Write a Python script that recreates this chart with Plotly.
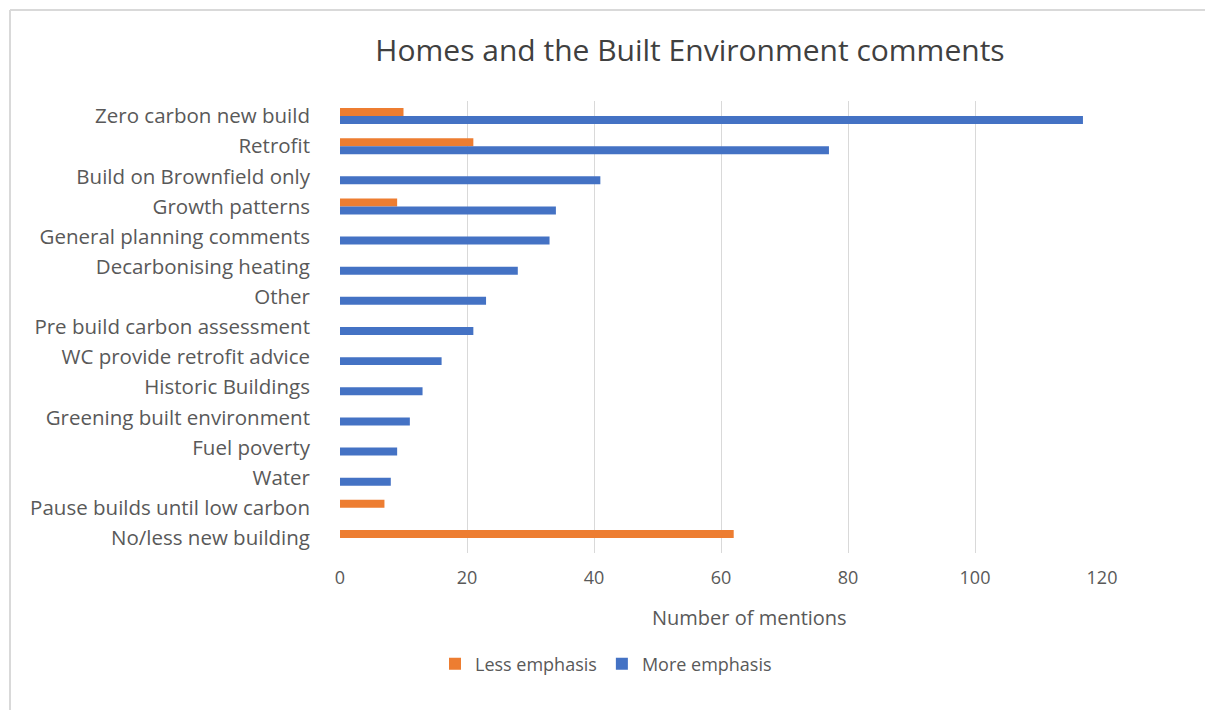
import plotly.graph_objects as go

# Comment themes, listed top to bottom
categories = [
    "Zero carbon new build",
    "Retrofit",
    "Build on Brownfield only",
    "Growth patterns",
    "General planning comments",
    "Decarbonising heating",
    "Other",
    "Pre build carbon assessment",
    "WC provide retrofit advice",
    "Historic Buildings",
    "Greening built environment",
    "Fuel poverty",
    "Water",
    "Pause builds until low carbon",
    "No/less new building",
]

less_emphasis = [10, 21, 0, 9, 0, 0, 0, 0, 0, 0, 0, 0, 0, 7, 62]
more_emphasis = [117, 77, 41, 34, 33, 28, 23, 21, 16, 13, 11, 9, 8, 0, 0]

x_ticks = [0, 20, 40, 60, 80, 100, 120]

FONT = "Open Sans"
GREY = "#595959"

fig = go.Figure()
fig.add_trace(go.Bar(
    y=categories, x=less_emphasis, name="Less emphasis", orientation="h",
    marker=dict(color="#ED7D31", line=dict(width=0)),
))
fig.add_trace(go.Bar(
    y=categories, x=more_emphasis, name="More emphasis", orientation="h",
    marker=dict(color="#4472C4", line=dict(width=0)),
))

# plot area in pixels: x 340..1102, y 101..553
L, R, T, B = 340, 1102, 101, 553
W, H = 1205, 710
pw, ph = R - L, B - T


def px(x):
    return (x - L) / pw


def py(y):
    return (B - y) / ph


fig.update_layout(
    width=W, height=H,
    margin=dict(l=L, r=W - R, t=T, b=H - B, autoexpand=False),
    paper_bgcolor="white", plot_bgcolor="white",
    barmode="group", bargap=0.47, bargroupgap=0,
    font=dict(family=FONT, color=GREY, size=18),
    title=dict(
        text="Homes and the Built Environment comments",
        font=dict(family=FONT, size=30, color="#404040"),
        x=690 / W, xref="container", xanchor="center",
        y=1 - 50 / H, yref="container", yanchor="middle",
    ),
    xaxis=dict(
        range=[0, 120], tickvals=x_ticks, ticktext=[str(v) for v in x_ticks],
        showgrid=True, gridcolor="#d9d9d9", gridwidth=1,
        zeroline=False, showline=False, ticks="", ticklabelstandoff=12,
        tickfont=dict(size=18, color=GREY, family=FONT),
        fixedrange=True,
    ),
    yaxis=dict(
        categoryorder="array", categoryarray=categories, autorange="reversed",
        showgrid=False, zeroline=False, showline=False, ticks="",
        ticklabelstandoff=29,
        tickfont=dict(size=20.5, color=GREY, family=FONT),
        fixedrange=True,
    ),
    legend=dict(
        orientation="h", x=px(606), xanchor="center",
        y=py(664), yanchor="middle",
        font=dict(size=18, color=GREY, family=FONT),
        traceorder="normal", itemwidth=30,
    ),
    annotations=[dict(
        text="Number of mentions", xref="paper", yref="paper",
        x=px(749), y=py(617), xanchor="center", yanchor="middle",
        showarrow=False, font=dict(size=20, color=GREY, family=FONT),
    )],
    shapes=[
        dict(type="line", xref="paper", yref="paper",
             x0=px(10), x1=px(1210), y0=py(10), y1=py(10),
             line=dict(color="#d9d9d9", width=2)),
        dict(type="line", xref="paper", yref="paper",
             x0=px(10), x1=px(10), y0=py(10), y1=py(715),
             line=dict(color="#d9d9d9", width=2)),
    ],
)

fig.write_html("out.html")
